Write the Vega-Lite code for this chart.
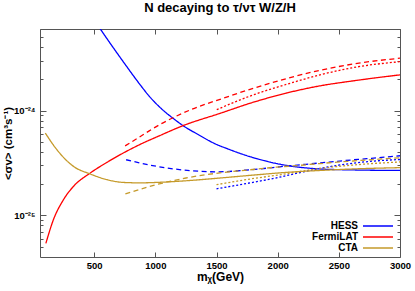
{
  "$schema": "https://vega.github.io/schema/vega-lite/v6.json",
  "width": 360,
  "height": 228,
  "autosize": {"type": "none"},
  "padding": {"left": 40, "top": 29, "right": 15, "bottom": 34},
  "background": "white",
  "title": {"text": "N decaying to τ/ντ W/Z/H", "font": "Liberation Sans", "fontSize": 13, "fontWeight": "bold", "anchor": "middle", "offset": 11, "color": "#000"},
  "config": {
    "font": "Liberation Sans",
    "view": {"stroke": null},
    "axis": {"domainColor": "#555", "tickColor": "#555", "labelFont": "Liberation Sans", "labelFontWeight": "bold", "labelFontSize": 9.5, "labelColor": "#000", "titleFont": "Liberation Sans", "titleFontWeight": "bold", "titleFontSize": 12, "titleColor": "#000", "grid": false}
  },
  "data": {"values": [
    {"exp": "HESS", "kind": "solid", "m": 550, "sv": 6.0e-24},
    {"exp": "HESS", "kind": "solid", "m": 650, "sv": 4.07e-24},
    {"exp": "HESS", "kind": "solid", "m": 750, "sv": 2.79e-24},
    {"exp": "HESS", "kind": "solid", "m": 876, "sv": 1.76e-24},
    {"exp": "HESS", "kind": "solid", "m": 950, "sv": 1.37e-24},
    {"exp": "HESS", "kind": "solid", "m": 1050, "sv": 1.04e-24},
    {"exp": "HESS", "kind": "solid", "m": 1150, "sv": 8.34e-25},
    {"exp": "HESS", "kind": "solid", "m": 1230, "sv": 7.13e-25},
    {"exp": "HESS", "kind": "solid", "m": 1350, "sv": 5.9e-25},
    {"exp": "HESS", "kind": "solid", "m": 1475, "sv": 4.9e-25},
    {"exp": "HESS", "kind": "solid", "m": 1600, "sv": 4.27e-25},
    {"exp": "HESS", "kind": "solid", "m": 1800, "sv": 3.55e-25},
    {"exp": "HESS", "kind": "solid", "m": 2074, "sv": 2.99e-25},
    {"exp": "HESS", "kind": "solid", "m": 2346, "sv": 2.77e-25},
    {"exp": "HESS", "kind": "solid", "m": 2618, "sv": 2.71e-25},
    {"exp": "HESS", "kind": "solid", "m": 3000, "sv": 2.68e-25},

    {"exp": "HESS", "kind": "dashed", "m": 761, "sv": 3.39e-25},
    {"exp": "HESS", "kind": "dashed", "m": 1012, "sv": 2.93e-25},
    {"exp": "HESS", "kind": "dashed", "m": 1284, "sv": 2.67e-25},
    {"exp": "HESS", "kind": "dashed", "m": 1502, "sv": 2.6e-25},
    {"exp": "HESS", "kind": "dashed", "m": 1775, "sv": 2.72e-25},
    {"exp": "HESS", "kind": "dashed", "m": 2074, "sv": 2.95e-25},
    {"exp": "HESS", "kind": "dashed", "m": 2346, "sv": 3.16e-25},
    {"exp": "HESS", "kind": "dashed", "m": 2537, "sv": 3.32e-25},
    {"exp": "HESS", "kind": "dashed", "m": 2728, "sv": 3.47e-25},
    {"exp": "HESS", "kind": "dashed", "m": 3000, "sv": 3.7e-25},

    {"exp": "HESS", "kind": "dotted", "m": 1500, "sv": 1.79e-25},
    {"exp": "HESS", "kind": "dotted", "m": 1775, "sv": 2.04e-25},
    {"exp": "HESS", "kind": "dotted", "m": 1960, "sv": 2.24e-25},
    {"exp": "HESS", "kind": "dotted", "m": 2210, "sv": 2.6e-25},
    {"exp": "HESS", "kind": "dotted", "m": 2483, "sv": 2.99e-25},
    {"exp": "HESS", "kind": "dotted", "m": 2755, "sv": 3.27e-25},
    {"exp": "HESS", "kind": "dotted", "m": 3000, "sv": 3.41e-25},

    {"exp": "FermiLAT", "kind": "solid", "m": 105, "sv": 5.4e-26},
    {"exp": "FermiLAT", "kind": "solid", "m": 167, "sv": 9.1e-26},
    {"exp": "FermiLAT", "kind": "solid", "m": 249, "sv": 1.41e-25},
    {"exp": "FermiLAT", "kind": "solid", "m": 331, "sv": 1.89e-25},
    {"exp": "FermiLAT", "kind": "solid", "m": 467, "sv": 2.53e-25},
    {"exp": "FermiLAT", "kind": "solid", "m": 604, "sv": 3.2e-25},
    {"exp": "FermiLAT", "kind": "solid", "m": 767, "sv": 4.1e-25},
    {"exp": "FermiLAT", "kind": "solid", "m": 900, "sv": 4.9e-25},
    {"exp": "FermiLAT", "kind": "solid", "m": 1012, "sv": 5.6e-25},
    {"exp": "FermiLAT", "kind": "solid", "m": 1230, "sv": 7.2e-25},
    {"exp": "FermiLAT", "kind": "solid", "m": 1529, "sv": 9.4e-25},
    {"exp": "FermiLAT", "kind": "solid", "m": 1801, "sv": 1.2e-24},
    {"exp": "FermiLAT", "kind": "solid", "m": 2074, "sv": 1.47e-24},
    {"exp": "FermiLAT", "kind": "solid", "m": 2346, "sv": 1.72e-24},
    {"exp": "FermiLAT", "kind": "solid", "m": 2618, "sv": 1.92e-24},
    {"exp": "FermiLAT", "kind": "solid", "m": 3000, "sv": 2.19e-24},

    {"exp": "FermiLAT", "kind": "dashed", "m": 753, "sv": 4.6e-25},
    {"exp": "FermiLAT", "kind": "dashed", "m": 850, "sv": 5.4e-25},
    {"exp": "FermiLAT", "kind": "dashed", "m": 950, "sv": 6.4e-25},
    {"exp": "FermiLAT", "kind": "dashed", "m": 1050, "sv": 7.5e-25},
    {"exp": "FermiLAT", "kind": "dashed", "m": 1150, "sv": 8.6e-25},
    {"exp": "FermiLAT", "kind": "dashed", "m": 1300, "sv": 1.03e-24},
    {"exp": "FermiLAT", "kind": "dashed", "m": 1529, "sv": 1.28e-24},
    {"exp": "FermiLAT", "kind": "dashed", "m": 1801, "sv": 1.63e-24},
    {"exp": "FermiLAT", "kind": "dashed", "m": 2074, "sv": 2.02e-24},
    {"exp": "FermiLAT", "kind": "dashed", "m": 2346, "sv": 2.42e-24},
    {"exp": "FermiLAT", "kind": "dashed", "m": 2618, "sv": 2.78e-24},
    {"exp": "FermiLAT", "kind": "dashed", "m": 3000, "sv": 3.16e-24},

    {"exp": "FermiLAT", "kind": "dotted", "m": 1502, "sv": 1.02e-24},
    {"exp": "FermiLAT", "kind": "dotted", "m": 1801, "sv": 1.41e-24},
    {"exp": "FermiLAT", "kind": "dotted", "m": 2074, "sv": 1.78e-24},
    {"exp": "FermiLAT", "kind": "dotted", "m": 2346, "sv": 2.19e-24},
    {"exp": "FermiLAT", "kind": "dotted", "m": 2618, "sv": 2.57e-24},
    {"exp": "FermiLAT", "kind": "dotted", "m": 3000, "sv": 2.93e-24},

    {"exp": "CTA", "kind": "solid", "m": 100, "sv": 6.1e-25},
    {"exp": "CTA", "kind": "solid", "m": 195, "sv": 4.23e-25},
    {"exp": "CTA", "kind": "solid", "m": 331, "sv": 2.93e-25},
    {"exp": "CTA", "kind": "solid", "m": 467, "sv": 2.48e-25},
    {"exp": "CTA", "kind": "solid", "m": 604, "sv": 2.19e-25},
    {"exp": "CTA", "kind": "solid", "m": 739, "sv": 2.06e-25},
    {"exp": "CTA", "kind": "solid", "m": 876, "sv": 2.04e-25},
    {"exp": "CTA", "kind": "solid", "m": 1012, "sv": 2.06e-25},
    {"exp": "CTA", "kind": "solid", "m": 1284, "sv": 2.15e-25},
    {"exp": "CTA", "kind": "solid", "m": 1529, "sv": 2.27e-25},
    {"exp": "CTA", "kind": "solid", "m": 1801, "sv": 2.42e-25},
    {"exp": "CTA", "kind": "solid", "m": 2074, "sv": 2.57e-25},
    {"exp": "CTA", "kind": "solid", "m": 2346, "sv": 2.68e-25},
    {"exp": "CTA", "kind": "solid", "m": 2618, "sv": 2.77e-25},
    {"exp": "CTA", "kind": "solid", "m": 3000, "sv": 2.85e-25},

    {"exp": "CTA", "kind": "dashed", "m": 755, "sv": 1.6e-25},
    {"exp": "CTA", "kind": "dashed", "m": 1000, "sv": 1.95e-25},
    {"exp": "CTA", "kind": "dashed", "m": 1250, "sv": 2.27e-25},
    {"exp": "CTA", "kind": "dashed", "m": 1515, "sv": 2.53e-25},
    {"exp": "CTA", "kind": "dashed", "m": 1775, "sv": 2.72e-25},
    {"exp": "CTA", "kind": "dashed", "m": 1985, "sv": 2.88e-25},
    {"exp": "CTA", "kind": "dashed", "m": 2169, "sv": 2.99e-25},
    {"exp": "CTA", "kind": "dashed", "m": 2346, "sv": 3.12e-25},
    {"exp": "CTA", "kind": "dashed", "m": 2618, "sv": 3.3e-25},
    {"exp": "CTA", "kind": "dashed", "m": 2837, "sv": 3.44e-25},
    {"exp": "CTA", "kind": "dashed", "m": 3000, "sv": 3.54e-25},

    {"exp": "CTA", "kind": "dotted", "m": 1500, "sv": 1.96e-25},
    {"exp": "CTA", "kind": "dotted", "m": 1775, "sv": 2.22e-25},
    {"exp": "CTA", "kind": "dotted", "m": 2030, "sv": 2.45e-25},
    {"exp": "CTA", "kind": "dotted", "m": 2346, "sv": 2.8e-25},
    {"exp": "CTA", "kind": "dotted", "m": 2618, "sv": 3.02e-25},
    {"exp": "CTA", "kind": "dotted", "m": 3000, "sv": 3.23e-25}
  ]},
  "layer": [
    {
      "mark": {"type": "line", "strokeWidth": 1.3, "clip": true, "interpolate": "monotone"},
      "encoding": {
        "x": {"field": "m", "type": "quantitative", "scale": {"domain": [57, 3000], "nice": false, "zero": false},
              "axis": {"orient": "bottom", "title": "mᵪ(GeV)", "format": "d", "values": [500, 1000, 1500, 2000, 2500, 3000], "tickSize": -5, "labelPadding": 8, "labelFlush": false, "titlePadding": 2}},
        "y": {"field": "sv", "type": "quantitative", "scale": {"type": "log", "domain": [4e-26, 6e-24], "nice": false},
              "axis": {"orient": "left", "title": "<σv> (cm³s⁻¹)", "titleFontSize": 11.5,
                       "values": [5e-26, 6e-26, 7e-26, 8e-26, 9e-26, 1e-25, 2e-25, 3e-25, 4e-25, 5e-25, 6e-25, 7e-25, 8e-25, 9e-25, 1e-24, 2e-24, 3e-24, 4e-24, 5e-24, 6e-24],
                       "labelExpr": "datum.value == 1e-24 ? '10⁻²⁴' : (datum.value == 1e-25 ? '10⁻²⁵' : '')",
                       "tickSize": {"condition": {"test": "datum.value == 1e-25 || datum.value == 1e-24", "value": -6}, "value": -3},
                       "labelPadding": 11, "titlePadding": 0}},
        "color": {"field": "exp", "type": "nominal",
                  "scale": {"domain": ["HESS", "FermiLAT", "CTA"], "range": ["#0000ff", "#ff0000", "#c59a2a"]},
                  "legend": {"orient": "bottom-right", "title": null, "labelFont": "Liberation Sans", "labelFontSize": 10, "labelFontWeight": "bold", "labelColor": "#000",
                             "labelAlign": "right", "labelOffset": -26, "symbolType": "M-3,0H3", "symbolSize": 100, "symbolStrokeWidth": 1.5,
                             "rowPadding": 0, "padding": 0, "offset": 4}},
        "strokeDash": {"field": "kind", "type": "nominal",
                       "scale": {"domain": ["solid", "dashed", "dotted"], "range": [[1, 0], [5, 3.5], [2, 2]]},
                       "legend": null}
      }
    },
    {
      "mark": {"type": "point", "opacity": 0},
      "encoding": {
        "x": {"field": "m", "type": "quantitative", "axis": {"orient": "top", "title": null, "labels": false, "values": [500, 1000, 1500, 2000, 2500, 3000], "tickSize": -5}},
        "y": {"field": "sv", "type": "quantitative",
              "axis": {"orient": "right", "title": null, "labels": false,
                       "values": [5e-26, 6e-26, 7e-26, 8e-26, 9e-26, 1e-25, 2e-25, 3e-25, 4e-25, 5e-25, 6e-25, 7e-25, 8e-25, 9e-25, 1e-24, 2e-24, 3e-24, 4e-24, 5e-24, 6e-24],
                       "tickSize": {"condition": {"test": "datum.value == 1e-25 || datum.value == 1e-24", "value": -6}, "value": -3}}}
      }
    }
  ]
}
